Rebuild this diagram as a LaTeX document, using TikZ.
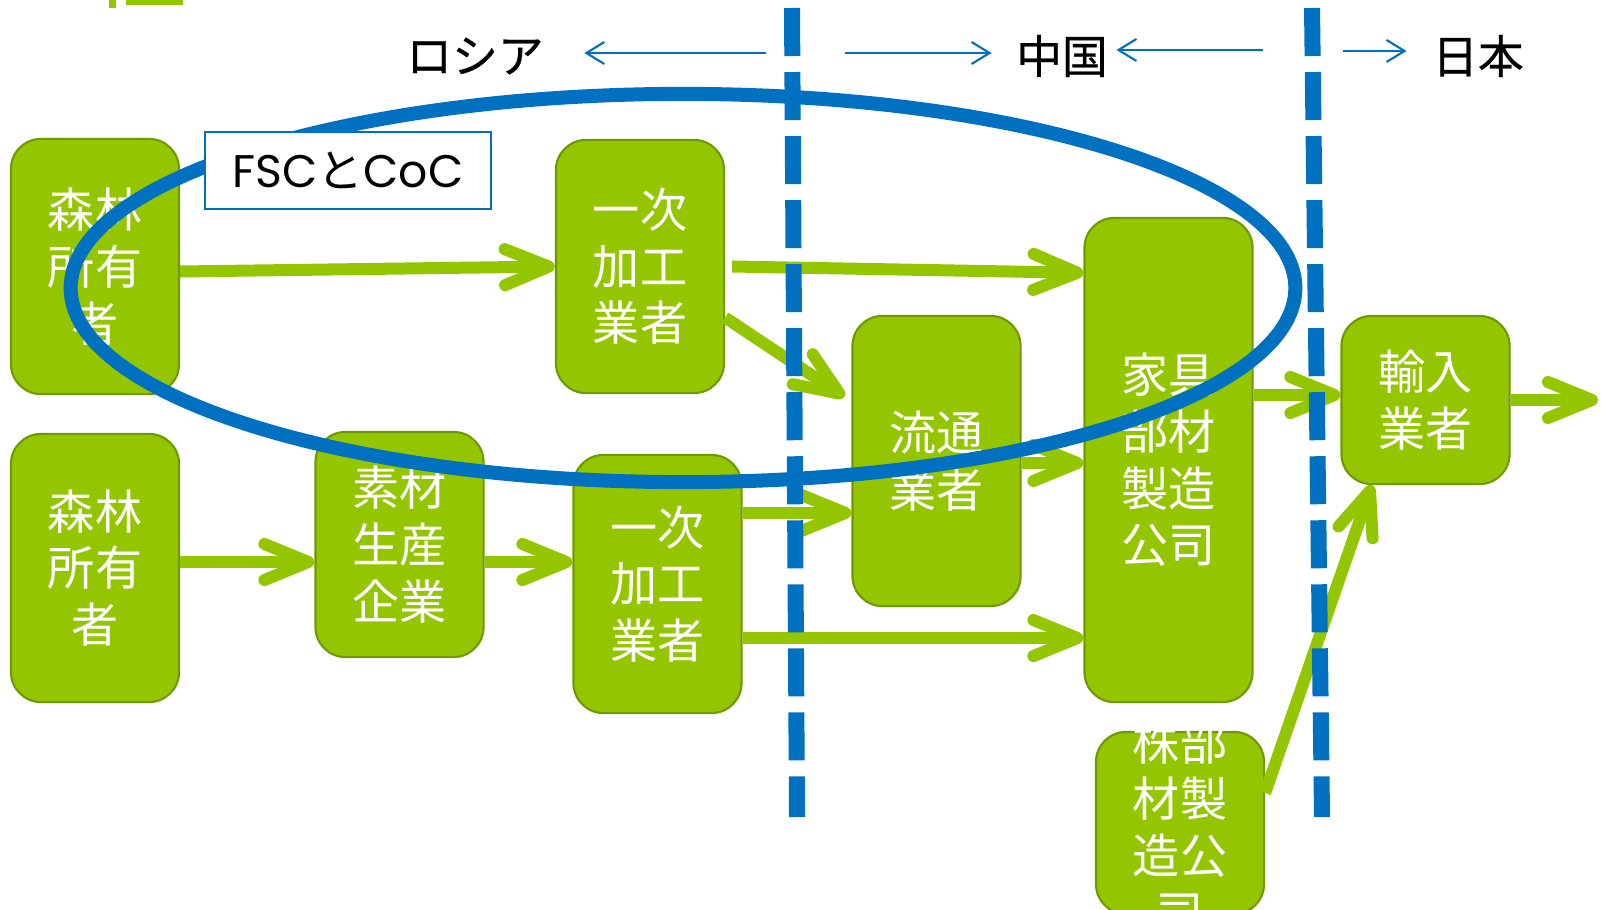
\documentclass[tikz,border=0pt]{standalone}
\usepackage{fontspec}
\setmainfont{Noto Sans CJK JP}
\newfontfamily\latinfont{Poppins}
\newfontfamily\countryfont[FakeBold=0.6]{Noto Sans CJK JP}
\usetikzlibrary{arrows.meta}

\definecolor{leaf}{RGB}{148,198,0}
\definecolor{leafdark}{RGB}{112,152,0}
\definecolor{sea}{RGB}{0,112,192}

\begin{document}
\begin{tikzpicture}[x=0.01cm, y=-0.01cm,
        stage/.style={draw=leafdark, line width=0.6pt, fill=leaf, rounded corners=0.3cm,
            text=white, align=center, inner sep=0pt, minimum width=1.68cm,
            font=\fontsize{13.4pt}{16.1pt}\selectfont},
        stagetext/.style={text=white, align=center, inner sep=0pt,
            font=\fontsize{13.4pt}{16.1pt}\selectfont},
        flow/.style={leaf, line width=1.2mm, -{Straight Barb[length=4.4mm, width=3.6mm, round]}},
        border/.style={sea, line width=1.6mm, dash pattern=on 4.8mm off 1.6mm},
        ring/.style={sea, line width=1.4mm},
        country/.style={inner sep=0pt, font=\fontsize{13pt}{13pt}\countryfont},
        dir/.style={sea, line width=0.6pt, -{Straight Barb[length=1.8mm, width=2.2mm]}},
        tag/.style={draw=sea, line width=0.5pt, fill=white, minimum width=2.86cm,
            minimum height=0.77cm, inner sep=0pt, font=\fontsize{13pt}{13pt}\selectfont}]
                \useasboundingbox (0,0) rectangle (1601,910);

                % Cut-off bits of green at the top
                \fill[leaf] (109,0) rectangle (116,8);
                \fill[leaf] (126,0) rectangle (183,5);

                % The green boxes
                \node[stage, minimum height=2.55cm] (own1) at (95,266.5) {森林\\所有\\者};
                \node[stage, minimum height=2.53cm] (proc1) at (640,266.5) {一次\\加工\\業者};
                \node[stage, minimum height=4.84cm] (furn) at (1168.5,460) {家具\\部材\\製造\\公司};
                \node[stage, minimum height=2.90cm] (dist) at (936.5,461) {流通\\業者};
                \node[stage, minimum height=1.68cm] (imp) at (1425.5,400) {輸入\\業者};
                \node[stage, minimum height=2.68cm] (own2) at (95,568) {森林\\所有\\者};
                \node[stage, minimum height=2.25cm] (mat) at (399.5,544.5) {素材\\生産\\企業};
                \node[stage, minimum height=2.58cm] (proc2) at (657.5,584) {一次\\加工\\業者};
                \node[stage, minimum height=1.82cm] (parts) at (1180,823) {};
                \node[stagetext] (partstext) at (1180,827) {株部\\材製\\造公\\司};

                % Green arrows between the boxes
                \coordinate (out) at (1598,400);
                \draw[flow] ([yshift=-0.05cm]own1.east) -- (proc1.west);
                \draw[flow] ([xshift=0.07cm]proc1.east) -- ([yshift=-0.56cm]furn.north west);
                \draw[flow] ([yshift=-0.51cm]proc1.east) -- ([xshift=-0.07cm,yshift=-0.82cm]dist.north west);
                \draw[flow] ([yshift=0.06cm]own2.east) -- ([yshift=0.06cm]own2.east -| mat.west);
                \draw[flow] ([yshift=-0.175cm]mat.east) -- ([yshift=-0.175cm]mat.east -| proc2.west);
                \draw[flow] ([yshift=0.71cm]proc2.east) -- ([yshift=0.71cm]proc2.east -| dist.west);
                \draw[flow] ([yshift=-0.54cm]proc2.east) -- ([yshift=-0.54cm]proc2.east -| furn.west);
                \draw[flow] ([yshift=-0.02cm]dist.east) -- ([yshift=-0.02cm]dist.east -| furn.west);
                \draw[flow] ([yshift=0.05cm]imp.west -| furn.east) -- ([yshift=0.05cm]imp.west);
                \draw[flow] (imp.east) -- (out);
                \draw[flow] ([yshift=0.3cm]parts.east) -- ([xshift=-0.535cm]imp.south);

                % Blue ring round the certified part
                \draw[ring] (683,288) ellipse [x radius=6.12cm, y radius=1.94cm];

                % Dashed borders between the countries
                \draw[border] (792,8) -- (797,817);
                \draw[border] (1312,8) -- (1322,817);

                % Label box on the ring
                \node[tag] (fsc) at (348,170.5) {{\latinfont FSC}と{\latinfont CoC}};

                % Countries and thin arrows
                \node[country] (ru) at (475,56) {ロシア};
                \node[country] (cn) at (1062,56) {中国};
                \node[country] (jp) at (1478,56) {日本};
                \coordinate (ruend) at (766,53);
                \coordinate (cnend1) at (845,53);
                \coordinate (cnend2) at (1263,50);
                \coordinate (jpend) at (1343,51);
                \draw[dir, shorten >=0.4cm] (ruend) -- (ruend -| ru.east);
                \draw[dir, shorten >=0.24cm] (cnend1) -- (cnend1 -| cn.west);
                \draw[dir, shorten >=0.08cm] (cnend2) -- (cnend2 -| cn.east);
                \draw[dir, shorten >=0.25cm] (jpend) -- (jpend -| jp.west);
\end{tikzpicture}
\end{document}
